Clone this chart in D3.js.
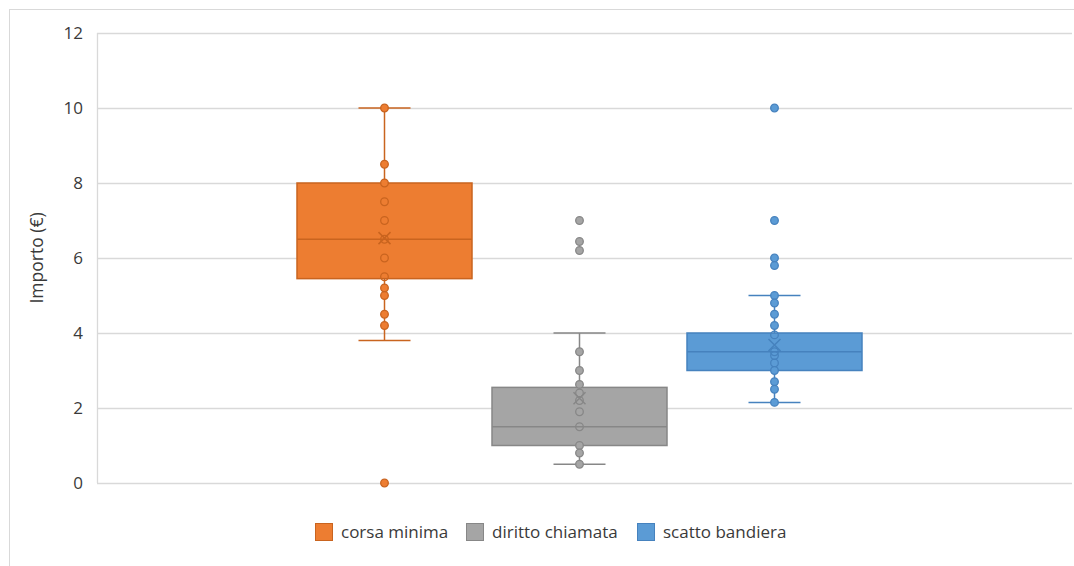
<!DOCTYPE html>
<html>
<head>
<meta charset="utf-8">
<script src="https://cdn.jsdelivr.net/npm/d3@7"></script>
<style>
  html, body { margin: 0; padding: 0; background: #fff; }
  svg { display: block; font-family: "Open Sans", "Noto Sans", sans-serif; }
</style>
</head>
<body>
<svg id="chart" width="1074" height="566"></svg>
<script>
// ---- data ----
const seriesNames = ["corsa minima", "diritto chiamata", "scatto bandiera"];
const whiskerLow  = [3.8, 0.5, 2.15];
const quartile1   = [5.45, 1.0, 3.0];
const medians     = [6.5, 1.5, 3.5];
const quartile3   = [8.0, 2.55, 4.0];
const whiskerHigh = [10.0, 4.0, 5.0];
const means       = [6.53, 2.26, 3.68];
const pointsCorsa     = [10, 8.5, 8, 7.5, 7, 6.5, 6, 5.5, 5.2, 5.0, 4.5, 4.2, 0];
const pointsDiritto   = [7, 6.44, 6.2, 3.5, 3.0, 2.63, 2.4, 2.2, 1.9, 1.5, 1.0, 0.8, 0.5];
const pointsScatto    = [10, 7, 6, 5.8, 5.0, 4.8, 4.5, 4.2, 3.95, 3.5, 3.4, 3.2, 3.0, 2.7, 2.5, 2.15];
const seriesPoints = [pointsCorsa, pointsDiritto, pointsScatto];
const yTicks = [0, 2, 4, 6, 8, 10, 12];
const fills   = ["#ED7D31", "#A5A5A5", "#5B9BD5"];
const strokes = ["#C9641F", "#878787", "#4682BE"];
const yTitle = "Importo (€)";

// ---- layout ----
const svg = d3.select("#chart");
const plot = { left: 97, right: 1072, top: 33, bottom: 483 };

// outer chart border
svg.append("rect").attr("x", 9.5).attr("y", 9.5).attr("width", 1080).attr("height", 600)
  .attr("fill", "none").attr("stroke", "#d9d9d9").attr("stroke-width", 1);

const y = d3.scaleLinear().domain([0, 12]).range([plot.bottom, plot.top]);
const x = d3.scaleBand().domain(seriesNames).range([297, 862]).paddingInner(20 / 195).paddingOuter(0);

// gridlines
svg.append("g").selectAll("line").data(yTicks).join("line")
  .attr("x1", plot.left).attr("x2", plot.right)
  .attr("y1", d => Math.round(y(d)) + 0.5).attr("y2", d => Math.round(y(d)) + 0.5)
  .attr("stroke", "#d9d9d9").attr("stroke-width", 1.3);

// vertical axis line
svg.append("line").attr("x1", plot.left + 0.5).attr("x2", plot.left + 0.5)
  .attr("y1", plot.top).attr("y2", plot.bottom)
  .attr("stroke", "#d9d9d9").attr("stroke-width", 1.3);

// y axis labels via d3 axis
const yAxis = d3.axisLeft(y).tickValues(yTicks).tickSize(0).tickPadding(14).tickFormat(d3.format("d"));
const gy = svg.append("g").attr("transform", `translate(${plot.left},0)`).call(yAxis);
gy.select(".domain").remove();
gy.selectAll("text").attr("font-size", 17).attr("fill", "#3a3a3a")
  .attr("font-family", "'Open Sans', sans-serif");

// y title
svg.append("text").attr("transform", `translate(43,258) rotate(-90)`)
  .attr("text-anchor", "middle").attr("font-size", 17.5).attr("fill", "#3a3a3a")
  .text(yTitle);

// boxes
seriesNames.forEach((name, i) => {
  const g = svg.append("g");
  const x0 = x(name), bw = x.bandwidth(), cx = x0 + bw / 2;
  const col = fills[i], sc = strokes[i];
  const capW = 26;
  // whiskers
  g.append("line").attr("x1", cx).attr("x2", cx).attr("y1", y(whiskerHigh[i])).attr("y2", y(quartile3[i]))
    .attr("stroke", sc).attr("stroke-width", 1.5);
  g.append("line").attr("x1", cx).attr("x2", cx).attr("y1", y(quartile1[i])).attr("y2", y(whiskerLow[i]))
    .attr("stroke", sc).attr("stroke-width", 1.5);
  [whiskerHigh[i], whiskerLow[i]].forEach(v => {
    g.append("line").attr("x1", cx - capW).attr("x2", cx + capW).attr("y1", y(v)).attr("y2", y(v))
      .attr("stroke", sc).attr("stroke-width", 1.5);
  });
  // box
  g.append("rect").attr("x", x0).attr("y", y(quartile3[i]))
    .attr("width", bw).attr("height", y(quartile1[i]) - y(quartile3[i]))
    .attr("fill", col).attr("stroke", sc).attr("stroke-width", 1.5);
  // median
  g.append("line").attr("x1", x0).attr("x2", x0 + bw).attr("y1", y(medians[i])).attr("y2", y(medians[i]))
    .attr("stroke", sc).attr("stroke-width", 1.5);
  // points
  g.selectAll("circle").data(seriesPoints[i]).join("circle")
    .attr("cx", cx).attr("cy", d => y(d)).attr("r", 3.8)
    .attr("fill", d => (d > quartile1[i] && d < quartile3[i]) ? "none" : col)
    .attr("stroke", sc).attr("stroke-width", 1.3);
  // mean marker X
  const m = y(means[i]), s = 6;
  g.append("path").attr("d", `M${cx - s},${m - s}L${cx + s},${m + s}M${cx - s},${m + s}L${cx + s},${m - s}`)
    .attr("stroke", sc).attr("stroke-width", 1.5).attr("fill", "none");
});

// legend
const legendX = [315, 466, 637];
const lg = svg.append("g");
seriesNames.forEach((name, i) => {
  lg.append("rect").attr("x", legendX[i] + 0.5).attr("y", 523.5).attr("width", 17).attr("height", 17)
    .attr("fill", fills[i]).attr("stroke", strokes[i]).attr("stroke-width", 1);
  lg.append("text").attr("x", legendX[i] + 26).attr("y", 538)
    .attr("font-size", 17).attr("fill", "#3a3a3a").text(name);
});
</script>
</body>
</html>
